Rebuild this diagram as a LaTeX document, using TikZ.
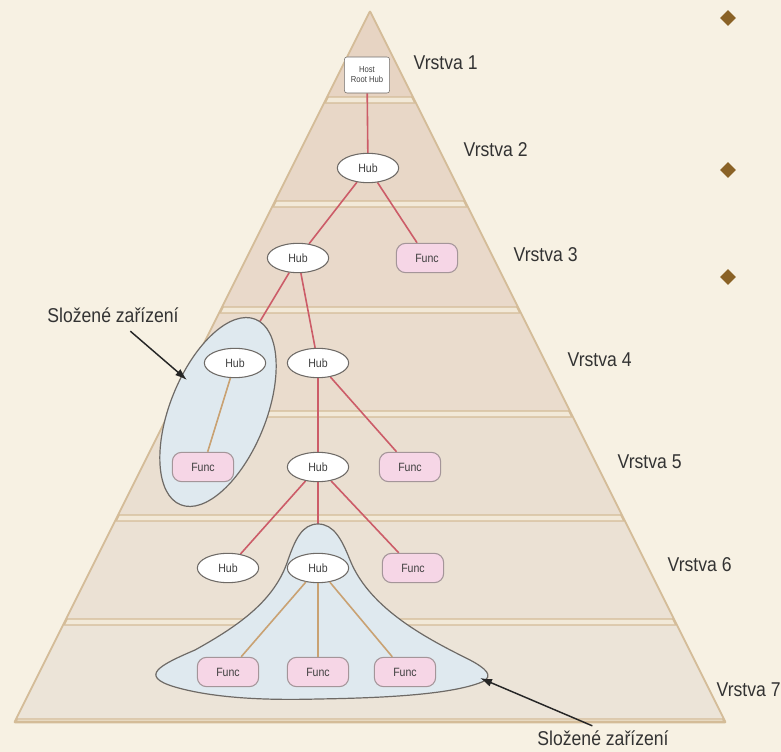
\documentclass[tikz,border=0pt]{standalone}
\usepackage{fontspec}
\setmainfont{Liberation Sans}
\newfontfamily\uzky[FakeStretch=0.88]{Liberation Sans}
\usetikzlibrary{arrows.meta,positioning,shapes.geometric,backgrounds}
\definecolor{pozadi}{HTML}{F7F1E3}
\definecolor{okraj}{HTML}{D4BC98}
\definecolor{mezera}{HTML}{F2E9D8}
\definecolor{vrA}{HTML}{E7D4C3}
\definecolor{vrB}{HTML}{ECE4D8}
\definecolor{cerv}{HTML}{CC5C68}
\definecolor{hned}{HTML}{C9A273}
\definecolor{modr}{HTML}{DFE9EF}
\definecolor{ruz}{HTML}{F6D6E6}
\definecolor{obrys}{HTML}{6E6A66}
\definecolor{bod}{HTML}{8A6226}
\pgfdeclarelayer{podklad}
\pgfdeclarelayer{spoje}
\pgfdeclarelayer{skupiny}
\pgfsetlayers{podklad,spoje,skupiny,main}
\tikzset{
  hub/.style={ellipse,draw=obrys,fill=white,line width=0.8pt,minimum width=46pt,
    minimum height=22pt,inner sep=0pt,text=black!75,font=\uzky\fontsize{9}{9}\selectfont},
  func/.style={rectangle,rounded corners=7pt,draw=obrys!60!ruz,fill=ruz,line width=0.8pt,
    minimum width=46pt,minimum height=22pt,inner sep=0pt,text=black!75,font=\uzky\fontsize{9}{9}\selectfont},
  koren/.style={draw=obrys,fill=white,rounded corners=2pt,minimum width=34pt,minimum height=27pt,
    align=center,inner sep=1pt,text=black!75,font=\uzky\fontsize{6.5}{7.5}\selectfont},
  spoj/.style={cerv,line width=1.2pt},
  vnit/.style={hned,line width=1.2pt},
  sloz/.style={draw=obrys,fill=modr,line width=0.9pt},
  popis/.style={font=\uzky\fontsize{15}{15}\selectfont,text=black!80},
  sipka/.style={-{Latex[length=9pt,width=6pt]},line width=1.1pt,black!85},
  odrazka/.style={diamond,fill=bod,inner sep=0pt,minimum size=12pt},
}
\begin{document}
\begin{tikzpicture}[x=0.75pt,y=-0.75pt]
  \useasboundingbox (0,0) rectangle (781,752);
  \begin{pgfonlayer}{podklad}
    \fill[pozadi] (0,0) rectangle (781,752);
    \draw[okraj,line width=2pt,fill=mezera,line join=round] (370,12) -- (725,722) -- (15,722) -- cycle;
    \foreach \t/\b/\c in {12/97/0,103/201/17,207/307/33,313/411/50,417/515/67,521/619/83,625/719/100}
      \draw[okraj,line width=0.8pt,fill=vrB!\c!vrA]
        ({370-0.5*(\t-12)},\t) -- ({370+0.5*(\t-12)},\t) -- ({370+0.5*(\b-12)},\b) -- ({370-0.5*(\b-12)},\b) -- cycle;
  \end{pgfonlayer}

  \foreach \n/\x/\y in {1/409/63,2/459/150,3/509/255,4/563/360,5/613/462,6/663/565,7/712/690}
    \node[popis,anchor=west] (v\n) at (\x,\y) {Vrstva \n};

  \node[koren] (kor) at (367,75) {Host\\Root Hub};
  \node[hub] (h2) at (368,168) {Hub};
  \node[hub] (h3) at (298,258) {Hub};
  \node[func] (f3) at (427,258) {Func};
  \node[hub] (h4a) at (235,363) {Hub};
  \node[hub] (h4b) at (318,363) {Hub};
  \node[func] (f5a) at (203,467) {Func};
  \node[hub] (h5) at (318,467) {Hub};
  \node[func] (f5) at (410,467) {Func};
  \node[hub] (h6a) at (228,568) {Hub};
  \node[hub] (h6b) at (318,568) {Hub};
  \node[func] (f6) at (413,568) {Func};
  \node[func] (f7a) at (228,672) {Func};
  \node[func] (f7b) at (318,672) {Func};
  \node[func] (f7c) at (405,672) {Func};

  \begin{pgfonlayer}{spoje}
    \draw[spoj] (kor) -- (h2) (h2) -- (h3) (h2) -- (f3) (h3) -- (h4a) (h3) -- (h4b)
      (h4b) -- (h5) (h4b) -- (f5) (h5) -- (h6a) (h5) -- (h6b) (h5) -- (f6);
  \end{pgfonlayer}
  \begin{pgfonlayer}{skupiny}
    \draw[sloz] (218,412) ellipse [x radius=75pt,y radius=36pt,rotate=68];
    \draw[sloz] (318,524) .. controls (302,524) and (295,540) .. (288,560)
      .. controls (275,600) and (240,625) .. (195,650)
      .. controls (160,665) and (138,676) .. (175,687)
      .. controls (220,700) and (280,700) .. (318,699)
      .. controls (380,698) and (450,695) .. (482,682)
      .. controls (495,676) and (485,668) .. (470,660)
      .. controls (430,640) and (370,610) .. (350,560)
      .. controls (342,540) and (334,524) .. (318,524) -- cycle;
  \end{pgfonlayer}
  \draw[vnit] (h4a) -- (f5a) (h6b) -- (f7a) (h6b) -- (f7b) (h6b) -- (f7c);

  \node[popis] (lab1) at (113,315) {Složené zařízení};
  \coordinate (cil1) at (187,380);
  \draw[sipka] ([xshift=13pt,yshift=-3pt]lab1.south) -- (cil1);
  \node[popis] (lab2) at (603,738) {Složené zařízení};
  \coordinate (cil2) at (480,678);
  \draw[sipka] ([xshift=-8pt]lab2.north) -- (cil2);

  \foreach \i/\y in {1/18,2/170,3/277}
    \node[odrazka] (b\i) at (728,\y) {};
\end{tikzpicture}
\end{document}
